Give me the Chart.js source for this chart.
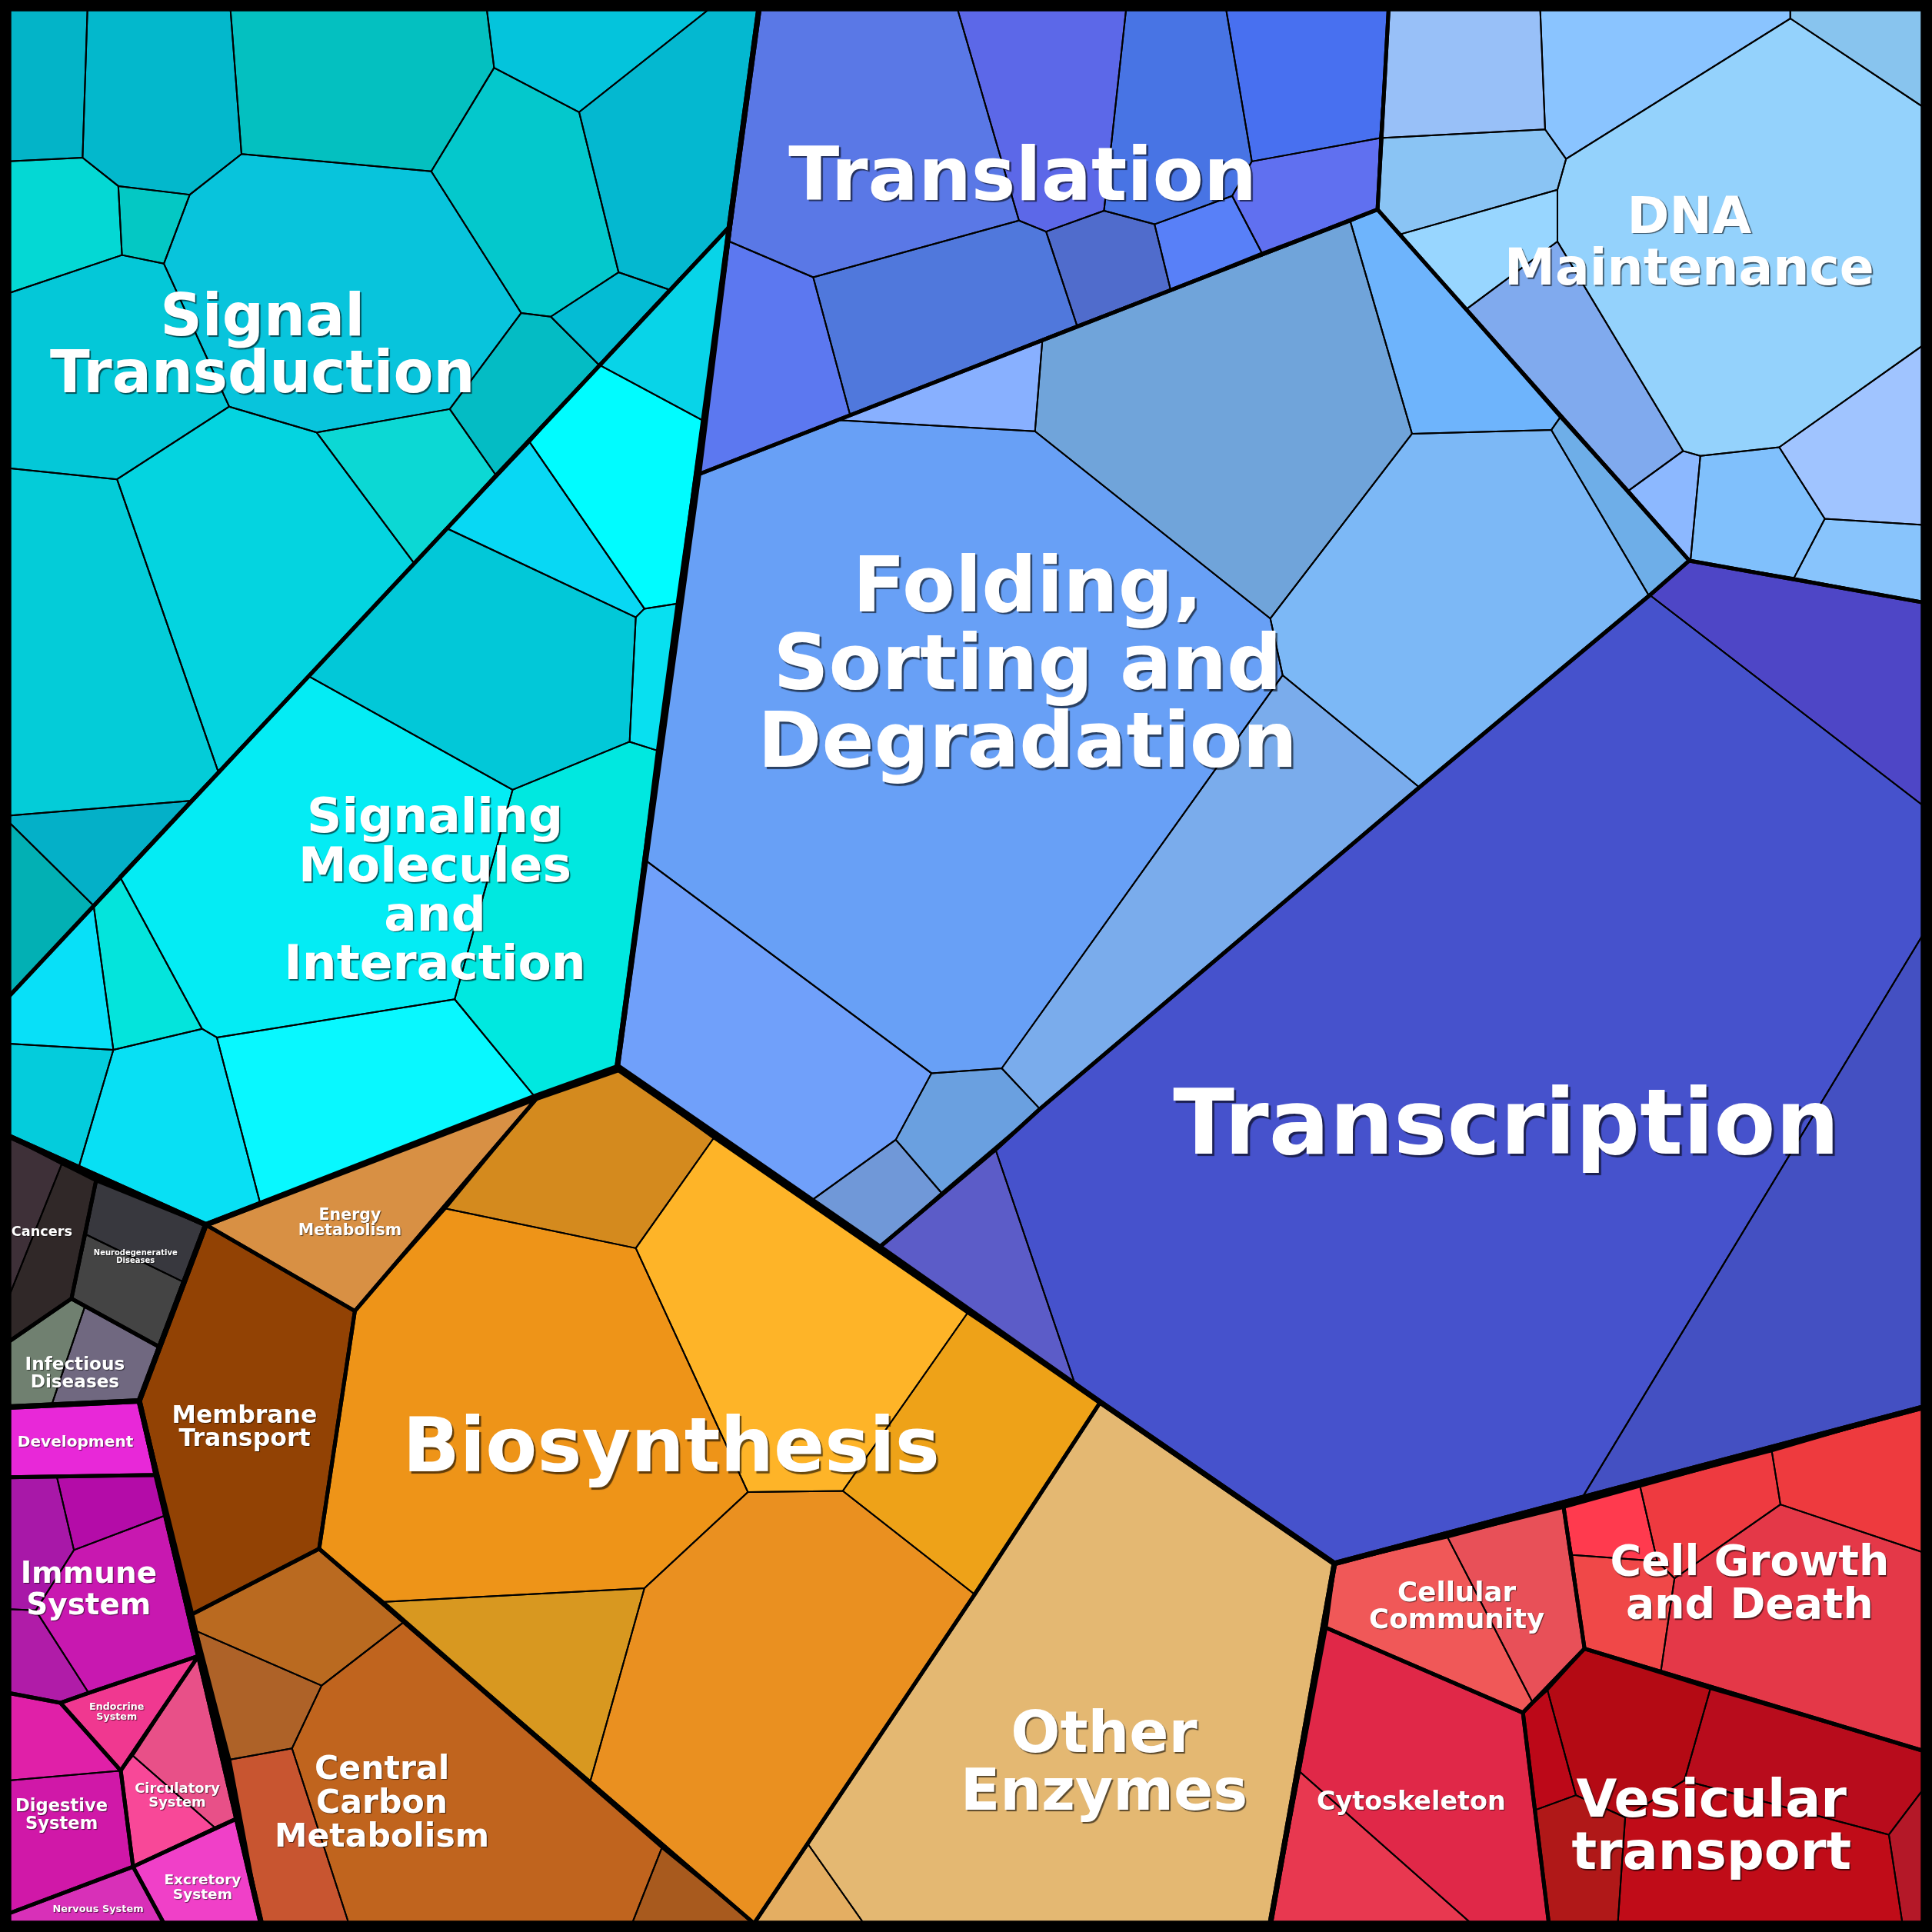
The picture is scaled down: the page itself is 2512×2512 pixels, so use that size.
<!DOCTYPE html>
<html>
<head>
<meta charset="utf-8">
<script src="https://cdn.jsdelivr.net/npm/chart.js@4.4.1/dist/chart.umd.min.js"></script>
<style>
  html, body { margin: 0; padding: 0; background: #000; }
  #wrap { width: 2512px; height: 2512px; }
</style>
</head>
<body>
<div id="wrap"><canvas id="voronoi" width="2512" height="2512"></canvas></div>
<script>
// Cell outlines, in a 1568 x 1568 frame (y grows downwards).
// Each cell is a flat list x0,y0,x1,y1,...

var signalTransduction = [
  [7,7, 71,7, 67,128, 7,131],
  [71,7, 187,7, 196,125, 154,158, 96,151, 67,128],
  [187,7, 395,7, 401,55, 350,139, 196,125],
  [395,7, 576,7, 470,91, 401,55],
  [576,7, 616,7, 592,184, 543,235, 502,221, 470,91],
  [401,55, 470,91, 502,221, 447,257, 423,254, 350,139],
  [196,125, 350,139, 423,254, 365,332, 257,351, 186,330, 133,214, 154,158],
  [7,131, 67,128, 96,151, 99,207, 7,238],
  [96,151, 154,158, 133,214, 99,207],
  [7,238, 99,207, 133,214, 186,330, 95,389, 7,380],
  [447,257, 502,221, 543,235, 486,296],
  [423,254, 447,257, 486,296, 402,385, 365,332],
  [257,351, 365,332, 402,385, 336,457],
  [95,389, 186,330, 257,351, 336,457, 177,626],
  [7,380, 95,389, 177,626, 154,650, 7,662],
  [7,662, 154,650, 97,711, 76,735, 7,667],
  [7,667, 76,735, 7,809]
];
var signalTransductionColors = ['#03B4C8', '#03B8CC', '#04C0C0', '#04C4DC', '#04B8D0', '#04C8CC', '#08C4DC', '#04D8D4', '#04C8C4', '#04C8D8', '#04BCD4', '#04BCC4', '#0CD8D4', '#04D4E0', '#04CCD8', '#04B0C8', '#02B0B4'];

var signalingMolecules = [
  [592,184, 570,341, 486,296, 543,235],
  [486,296, 570,341, 549,490, 523,494, 430,359],
  [430,359, 523,494, 516,501, 363,429],
  [363,429, 516,501, 511,602, 416,641, 251,549],
  [516,501, 523,494, 549,490, 533,609, 511,602],
  [416,641, 511,602, 533,609, 501,866, 434,890, 369,811],
  [251,549, 416,641, 369,811, 176,842, 164,835, 97,711],
  [97,711, 164,835, 92,852, 76,735],
  [76,735, 92,852, 7,847, 7,809],
  [7,847, 92,852, 64,947, 7,922],
  [92,852, 164,835, 176,842, 211,976, 167,994, 64,947],
  [176,842, 369,811, 434,890, 211,976]
];
var signalingMoleculesColors = ['#08D4E8', '#00FCFF', '#08D8F4', '#02C8D8', '#08E0F0', '#00E8E0', '#04ECF4', '#04E4DC', '#08E0F8', '#04CCDC', '#08E0F4', '#08F8FF'];

var translation = [
  [616,7, 777,7, 827,179, 660,225, 592,196],
  [592,196, 660,225, 690,337, 567,385],
  [660,225, 827,179, 849,188, 874,264, 690,337],
  [777,7, 914,7, 896,171, 849,188, 827,179],
  [849,188, 896,171, 937,182, 950,235, 874,264],
  [914,7, 995,7, 1016,131, 1000,159, 937,182, 896,171],
  [937,182, 1000,159, 1024,205, 950,235],
  [995,7, 1127,7, 1120,112, 1016,131],
  [1016,131, 1120,112, 1118,170, 1024,205, 1000,159]
];
var translationColors = ['#5A78E6', '#5C78F0', '#5078DC', '#5C68E8', '#506CCC', '#4874E4', '#5880F8', '#4870F0', '#6070F0'];

var folding = [
  [680,341, 846,276, 840,350],
  [567,385, 680,341, 840,350, 1031,502, 1041,548, 813,867, 756,871, 525,699],
  [525,699, 756,871, 727,925, 659,974, 501,865],
  [756,871, 813,867, 844,900, 764,968, 727,925],
  [727,925, 764,968, 714,1012, 659,974],
  [1041,548, 1152,639, 844,900, 813,867],
  [840,350, 846,276, 1096,180, 1146,352, 1031,502],
  [1096,180, 1118,170, 1266,339, 1259,349, 1146,352],
  [1146,352, 1259,349, 1338,483, 1152,639, 1041,548, 1031,502],
  [1259,349, 1266,339, 1371,455, 1338,483]
];
var foldingColors = ['#88B0FF', '#68A0F6', '#70A0FA', '#6AA0E0', '#7098D8', '#7AACEC', '#70A4DA', '#6EB4FC', '#7CB8F6', '#6EAEE8'];

var dnaMaintenance = [
  [1127,7, 1250,7, 1254,105, 1120,112],
  [1120,112, 1254,105, 1271,129, 1264,154, 1137,190, 1118,170],
  [1137,190, 1264,154, 1264,196, 1190,251],
  [1190,251, 1264,196, 1366,366, 1322,398],
  [1250,7, 1453,7, 1453,15, 1271,129, 1254,105],
  [1453,7, 1561,7, 1561,87, 1453,15],
  [1271,129, 1453,15, 1561,87, 1561,280, 1444,363, 1380,370, 1366,366, 1264,196, 1264,154],
  [1322,398, 1366,366, 1380,370, 1372,455],
  [1380,370, 1444,363, 1481,421, 1456,469, 1372,455],
  [1444,363, 1561,280, 1561,426, 1481,421],
  [1481,421, 1561,426, 1561,489, 1456,469]
];
var dnaMaintenanceColors = ['#98C0F8', '#8AC4F4', '#98D6FF', '#80AAEE', '#8AC4FF', '#88C4EE', '#94D2FC', '#8CB8FF', '#80C0FC', '#A0C4FF', '#88C4FC'];

var transcription = [
  [714,1012, 808,933, 872,1122],
  [808,933, 844,900, 1152,639, 1339,483, 1561,654, 1561,758, 1285,1214, 1083,1269, 893,1138, 872,1122],
  [1561,758, 1561,1142, 1285,1214],
  [1371,455, 1561,489, 1561,654, 1339,483]
];
var transcriptionColors = ['#5C5CC8', '#4652CC', '#4450C2', '#4E46C6'];

var energyMetabolism = [[167,994, 436,891, 288,1064]];
var energyMetabolismColors = ['#D89044'];

var membraneTransport = [[167,994, 288,1064, 259,1257, 156,1310, 113,1137]];
var membraneTransportColors = ['#924204'];

var biosynthesis = [
  [436,891, 502,868, 579,924, 516,1013, 362,981],
  [362,981, 516,1013, 607,1211, 523,1289, 312,1300, 259,1257, 288,1064],
  [579,924, 785,1066, 684,1210, 607,1211, 516,1013],
  [785,1066, 893,1138, 791,1294, 684,1210],
  [607,1211, 684,1210, 791,1294, 612,1561, 479,1446, 523,1289],
  [312,1300, 523,1289, 479,1446]
];
var biosynthesisColors = ['#D48A1E', '#EE9418', '#FEB428', '#EEA218', '#EA9020', '#D89820'];

var centralCarbon = [
  [156,1310, 259,1257, 327,1317, 261,1368, 160,1324],
  [160,1324, 261,1368, 237,1419, 187,1428],
  [187,1428, 237,1419, 283,1561, 212,1561],
  [261,1368, 327,1317, 537,1500, 513,1561, 283,1561, 237,1419],
  [537,1500, 612,1561, 513,1561]
];
var centralCarbonColors = ['#BA6A20', '#AE6228', '#C85530', '#C0641E', '#A85A1E'];

var otherEnzymes = [
  [893,1138, 1083,1269, 1031,1561, 701,1561, 656,1497, 791,1294],
  [656,1497, 701,1561, 612,1561]
];
var otherEnzymesColors = ['#E4B872', '#E4AE62'];

var cancers = [
  [7,922, 50,945, 7,1053],
  [50,945, 78,958, 58,1054, 7,1089, 7,1053]
];
var cancersColors = ['#3E3038', '#302828'];

var neurodegenerative = [
  [78,958, 167,994, 148,1040, 70,1002],
  [70,1002, 148,1040, 129,1093, 58,1054]
];
var neurodegenerativeColors = ['#38383E', '#444444'];

var infectious = [
  [7,1089, 58,1054, 69,1060, 42,1140, 7,1142],
  [69,1060, 129,1093, 113,1137, 42,1140]
];
var infectiousColors = ['#708070', '#706880'];

var development = [[7,1142, 113,1137, 126,1197, 7,1199]];
var developmentColors = ['#E828D8'];

var immune = [
  [7,1199, 46,1198, 60,1258, 29,1307, 7,1306],
  [46,1198, 126,1197, 134,1230, 60,1258],
  [60,1258, 134,1230, 161,1344, 72,1374, 29,1307],
  [7,1306, 29,1307, 72,1374, 49,1382, 7,1374]
];
var immuneColors = ['#A818A8', '#B40CA8', '#C818B0', '#B01CA8'];

var endocrine = [[49,1382, 72,1374, 161,1344, 98,1437]];
var endocrineColors = ['#F03890'];

var circulatory = [
  [108,1425, 161,1344, 192,1476, 174,1483],
  [98,1437, 108,1425, 174,1483, 108,1515]
];
var circulatoryColors = ['#E85088', '#F84898'];

var digestive = [
  [7,1374, 49,1382, 98,1437, 7,1445],
  [7,1445, 98,1437, 108,1515, 7,1553]
];
var digestiveColors = ['#E020A8', '#D018A8'];

var nervous = [[7,1553, 108,1515, 133,1561, 7,1561]];
var nervousColors = ['#D830B8'];

var excretory = [[108,1515, 192,1476, 212,1561, 133,1561]];
var excretoryColors = ['#F040C8'];

var cellularCommunity = [
  [1083,1269, 1175,1248, 1244,1382, 1236,1390, 1076,1321],
  [1175,1248, 1269,1223, 1286,1338, 1244,1382]
];
var cellularCommunityColors = ['#F05858', '#E85058'];

var cytoskeleton = [
  [1076,1321, 1236,1390, 1257,1561, 1194,1561, 1055,1438],
  [1055,1438, 1194,1561, 1031,1561]
];
var cytoskeletonColors = ['#E02848', '#E83850'];

var cellGrowth = [
  [1269,1223, 1331,1206, 1345,1267, 1276,1262],
  [1276,1262, 1345,1267, 1359,1281, 1348,1356, 1286,1338],
  [1331,1206, 1438,1178, 1445,1221, 1359,1281, 1345,1267],
  [1438,1178, 1561,1142, 1561,1260, 1445,1221],
  [1359,1281, 1445,1221, 1561,1260, 1561,1421, 1348,1356]
];
var cellGrowthColors = ['#FF3A4E', '#F04848', '#EE3A40', '#EE3A3E', '#E43848'];

var vesicular = [
  [1256,1372, 1286,1339, 1388,1371, 1367,1445, 1319,1475, 1279,1457],
  [1236,1390, 1256,1372, 1279,1457, 1246,1469],
  [1246,1469, 1279,1457, 1319,1475, 1313,1561, 1257,1561],
  [1388,1371, 1561,1421, 1561,1452, 1533,1489, 1367,1445],
  [1319,1475, 1367,1445, 1533,1489, 1544,1561, 1313,1561],
  [1533,1489, 1561,1452, 1561,1561, 1544,1561]
];
var vesicularColors = ['#B40A14', '#BC0818', '#B01818', '#B80C1C', '#C00C18', '#B41828'];

// second-level category outlines
var subgroupOutlines = [
  [7,7, 616,7, 592,184, 7,809],
  [592,184, 501,866, 434,890, 167,994, 7,922, 7,809],
  [616,7, 1127,7, 1118,170, 567,385, 592,184],
  [567,385, 1118,170, 1371,455, 1339,483, 1152,639, 844,900, 808,933, 714,1012, 501,865],
  [1127,7, 1561,7, 1561,489, 1371,455, 1118,170],
  [1371,455, 1561,489, 1561,1142, 1083,1269, 893,1138, 714,1012, 808,933, 844,900, 1152,639, 1339,483],
  [167,994, 436,891, 288,1064],
  [167,994, 288,1064, 259,1257, 156,1310, 113,1137],
  [436,891, 502,868, 893,1138, 791,1294, 612,1561, 259,1257, 288,1064],
  [156,1310, 259,1257, 612,1561, 212,1561],
  [893,1138, 1083,1269, 1031,1561, 612,1561, 791,1294],
  [7,922, 78,958, 58,1054, 7,1089],
  [78,958, 167,994, 129,1093, 58,1054],
  [7,1089, 58,1054, 129,1093, 113,1137, 7,1142],
  [7,1142, 113,1137, 126,1197, 7,1199],
  [7,1199, 126,1197, 161,1344, 72,1374, 49,1382, 7,1374],
  [49,1382, 72,1374, 161,1344, 98,1437],
  [98,1437, 161,1344, 192,1476, 108,1515],
  [7,1374, 49,1382, 98,1437, 108,1515, 7,1553],
  [7,1553, 108,1515, 133,1561, 7,1561],
  [108,1515, 192,1476, 212,1561, 133,1561],
  [1083,1269, 1269,1223, 1286,1338, 1236,1390, 1076,1321],
  [1076,1321, 1236,1390, 1257,1561, 1031,1561],
  [1269,1223, 1561,1142, 1561,1421, 1286,1338],
  [1236,1390, 1286,1338, 1561,1421, 1561,1561, 1257,1561]
];

// top-level category outlines
var topOutlines = [
  [7,7, 616,7, 592,184, 501,866, 434,890, 167,994, 7,922],
  [616,7, 1561,7, 1561,1142, 1083,1269, 893,1138, 714,1012, 501,865, 567,385, 592,184],
  [167,994, 436,891, 502,868, 893,1138, 1083,1269, 1031,1561, 212,1561, 113,1137],
  [7,922, 167,994, 113,1137, 7,1142],
  [7,1142, 113,1137, 212,1561, 7,1561],
  [1083,1269, 1561,1142, 1561,1561, 1031,1561]
];

var labelLines = [
  ['Signal', 'Transduction'],
  ['Signaling', 'Molecules', 'and', 'Interaction'],
  ['Translation'],
  ['Folding,', 'Sorting and', 'Degradation'],
  ['DNA', 'Maintenance'],
  ['Transcription'],
  ['Energy', 'Metabolism'],
  ['Membrane', 'Transport'],
  ['Biosynthesis'],
  ['Central', 'Carbon', 'Metabolism'],
  ['Other', 'Enzymes'],
  ['Cancers'],
  ['Neurodegenerative', 'Diseases'],
  ['Infectious', 'Diseases'],
  ['Development'],
  ['Immune', 'System'],
  ['Endocrine', 'System'],
  ['Circulatory', 'System'],
  ['Digestive', 'System'],
  ['Excretory', 'System'],
  ['Nervous System'],
  ['Cellular', 'Community'],
  ['Cytoskeleton'],
  ['Cell Growth', 'and Death'],
  ['Vesicular', 'transport']
];

// label layout: centre x, first baseline y, width of widest line, line step (frame units)
var labelLayout = [
  [213, 272, 345, 46.5],
  [353, 675.5, 245, 39.8],
  [830, 162, 380, 0],
  [834, 496, 438, 63.3],
  [1371, 189, 300, 42.2],
  [1222.5, 936.4, 541, 0],
  [284, 989.8, 84, 12.5],
  [198.5, 1154.5, 118, 19.1],
  [544.7, 1194.3, 436, 0],
  [310, 1444, 174.3, 27.3],
  [896, 1421.8, 233, 47.2],
  [34, 1003.2, 49.5, 0],
  [110, 1018.4, 68, 6.4],
  [60.8, 1111.4, 81, 14.8],
  [61.2, 1174.1, 94, 0],
  [72, 1284.6, 110.8, 25.5],
  [94.7, 1387.8, 44.6, 8],
  [143.9, 1455.3, 69.2, 10.8],
  [50, 1470, 75, 14.2],
  [164.4, 1529.6, 62.4, 11.3],
  [79.6, 1551.7, 73.8, 0],
  [1182.3, 1299.4, 142.5, 21.8],
  [1145.3, 1469, 153.5, 0],
  [1420, 1278.6, 226.4, 34.8],
  [1389, 1474.3, 227, 42.6]
];

var cellSets = [
  [signalTransduction, signalTransductionColors],
  [signalingMolecules, signalingMoleculesColors],
  [translation, translationColors],
  [folding, foldingColors],
  [dnaMaintenance, dnaMaintenanceColors],
  [transcription, transcriptionColors],
  [energyMetabolism, energyMetabolismColors],
  [membraneTransport, membraneTransportColors],
  [biosynthesis, biosynthesisColors],
  [centralCarbon, centralCarbonColors],
  [otherEnzymes, otherEnzymesColors],
  [cancers, cancersColors],
  [neurodegenerative, neurodegenerativeColors],
  [infectious, infectiousColors],
  [development, developmentColors],
  [immune, immuneColors],
  [endocrine, endocrineColors],
  [circulatory, circulatoryColors],
  [digestive, digestiveColors],
  [nervous, nervousColors],
  [excretory, excretoryColors],
  [cellularCommunity, cellularCommunityColors],
  [cytoskeleton, cytoskeletonColors],
  [cellGrowth, cellGrowthColors],
  [vesicular, vesicularColors]
];

function ring(flat) {
  var pts = [];
  for (var i = 0; i < flat.length; i += 2) pts.push({ x: flat[i], y: flat[i + 1] });
  pts.push({ x: flat[0], y: flat[1] });
  return pts;
}

var datasets = [];
topOutlines.forEach(function (poly) {
  datasets.push({ data: ring(poly), showLine: true, borderColor: '#000', borderWidth: 7,
    borderJoinStyle: 'round', borderCapStyle: 'round', pointRadius: 0, order: 0 });
});
subgroupOutlines.forEach(function (poly) {
  datasets.push({ data: ring(poly), showLine: true, borderColor: '#000', borderWidth: 5,
    borderJoinStyle: 'round', borderCapStyle: 'round', pointRadius: 0, order: 1 });
});
cellSets.forEach(function (set) {
  set[0].forEach(function (poly, i) {
    datasets.push({ data: ring(poly), showLine: true, borderColor: '#000', borderWidth: 2,
      borderJoinStyle: 'round', pointRadius: 0, order: 2, cellFill: set[1][i] });
  });
});

// fill each cell polygon from the points Chart.js laid out on its scales
var cellFillPlugin = {
  id: 'cellFill',
  beforeDatasetsDraw: function (chart) {
    var ctx = chart.ctx;
    chart.data.datasets.forEach(function (ds, i) {
      if (!ds.cellFill) return;
      var pts = chart.getDatasetMeta(i).data;
      ctx.save();
      ctx.beginPath();
      pts.forEach(function (p, j) { if (j) ctx.lineTo(p.x, p.y); else ctx.moveTo(p.x, p.y); });
      ctx.closePath();
      ctx.fillStyle = ds.cellFill;
      ctx.fill();
      ctx.restore();
    });
  }
};

var labelPlugin = {
  id: 'cellLabels',
  afterDatasetsDraw: function (chart) {
    var ctx = chart.ctx, sx = chart.scales.x, sy = chart.scales.y;
    var unit = sx.getPixelForValue(1) - sx.getPixelForValue(0);
    labelLines.forEach(function (lines, k) {
      var lay = labelLayout[k];
      ctx.save();
      ctx.font = 'bold 100px "DejaVu Sans"';
      var widest = 0;
      lines.forEach(function (t) { widest = Math.max(widest, ctx.measureText(t).width); });
      var size = 100 * lay[2] * unit / widest;
      ctx.font = 'bold ' + size.toFixed(2) + 'px "DejaVu Sans"';
      ctx.textAlign = 'center';
      ctx.textBaseline = 'alphabetic';
      ctx.fillStyle = '#fff';
      ctx.shadowColor = 'rgba(0,0,0,0.6)';
      ctx.shadowOffsetX = Math.max(1, size * 0.025);
      ctx.shadowOffsetY = Math.max(1, size * 0.025);
      ctx.shadowBlur = 1;
      var x = sx.getPixelForValue(lay[0]);
      lines.forEach(function (t, j) {
        ctx.fillText(t, x, sy.getPixelForValue(lay[1] + j * lay[3]));
      });
      ctx.restore();
    });
  },
  afterDraw: function (chart) {
    var ctx = chart.ctx;
    ctx.save();
    ctx.strokeStyle = '#000';
    ctx.lineWidth = 23;
    ctx.strokeRect(0, 0, chart.width, chart.height);
    ctx.restore();
  }
};

new Chart(document.getElementById('voronoi').getContext('2d'), {
  type: 'scatter',
  data: { datasets: datasets },
  options: {
    responsive: false,
    animation: false,
    devicePixelRatio: 1,
    events: [],
    layout: { padding: 0 },
    plugins: { legend: { display: false }, tooltip: { enabled: false } },
    elements: { line: { tension: 0 } },
    scales: {
      x: { type: 'linear', min: 0, max: 1568, display: false },
      y: { type: 'linear', min: 0, max: 1568, reverse: true, display: false }
    }
  },
  plugins: [cellFillPlugin, labelPlugin]
});
</script>
</body>
</html>
